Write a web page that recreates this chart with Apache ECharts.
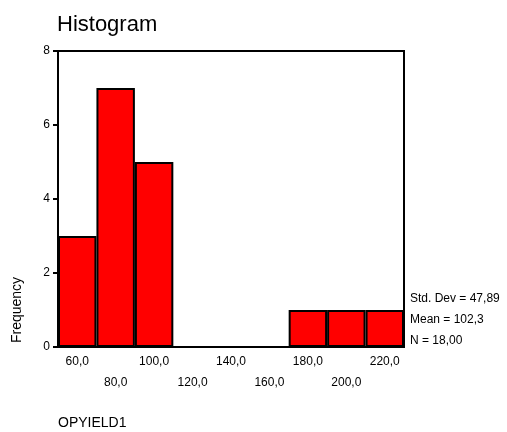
<!DOCTYPE html>
<html>
<head>
<meta charset="utf-8">
<script src="https://cdn.jsdelivr.net/npm/echarts@6/dist/echarts.min.js"></script>
<style>html,body{margin:0;padding:0;background:#fff;}#c{width:507px;height:432px;}</style>
</head>
<body>
<div id="c"></div>
<script>
var categories = ['60,0','80,0','100,0','120,0','140,0','160,0','180,0','200,0','220,0'];
var frequency = [3, 7, 5, 0, 0, 0, 1, 1, 1];
var yTicks = [0, 2, 4, 6, 8];
var statsLines = ['Std. Dev = 47,89', 'Mean = 102,3', 'N = 18,00'];
var titleText = 'Histogram';
var xName = 'OPYIELD1';
var yName = 'Frequency';

var FONT = '"Liberation Sans", Arial, sans-serif';
var chart = echarts.init(document.getElementById('c'), null, {renderer: 'canvas'});
chart.setOption({
  animation: false,
  backgroundColor: '#fff',
  title: {text: titleText, left: 52, top: 9, textStyle: {fontFamily: FONT, fontSize: 22, fontWeight: 'normal', color: '#000'}},
  grid: {left: 58, top: 51, right: 103, bottom: 85, show: true, borderColor: '#000', borderWidth: 2, backgroundColor: 'transparent'},
  xAxis: {
    type: 'category', data: categories,
    axisLine: {lineStyle: {color: '#000', width: 2}},
    axisTick: {show: false},
    axisLabel: {interval: 0, margin: 4, lineHeight: 21, fontFamily: FONT, fontSize: 12, color: '#000',
      formatter: function (v, i) { return i % 2 ? '\n' + v : v; }},
    splitLine: {show: false}
  },
  yAxis: {
    type: 'value', min: yTicks[0], max: yTicks[yTicks.length - 1], interval: 2,
    axisLine: {show: true, lineStyle: {color: '#000', width: 2}},
    axisTick: {show: true, length: 5, lineStyle: {color: '#000', width: 2}},
    axisLabel: {margin: 8, fontFamily: FONT, fontSize: 12, color: '#000'},
    splitLine: {show: false}
  },
  series: [{
    type: 'bar', data: frequency, barCategoryGap: 0,
    itemStyle: {color: '#ff0000', borderColor: '#000', borderWidth: 2}
  }],
  graphic: [
    {type: 'text', left: 410, top: 288, style: {text: statsLines.join('\n'), lineHeight: 21, font: '12px ' + FONT, fill: '#000'}},
    {type: 'text', left: 58, top: 416, style: {text: xName, font: '14px ' + FONT, fill: '#000'}},
    {type: 'text', x: 17, y: 310, rotation: Math.PI / 2, style: {text: yName, font: '14px ' + FONT, fill: '#000', align: 'center', verticalAlign: 'middle'}}
  ]
});
</script>
</body>
</html>
